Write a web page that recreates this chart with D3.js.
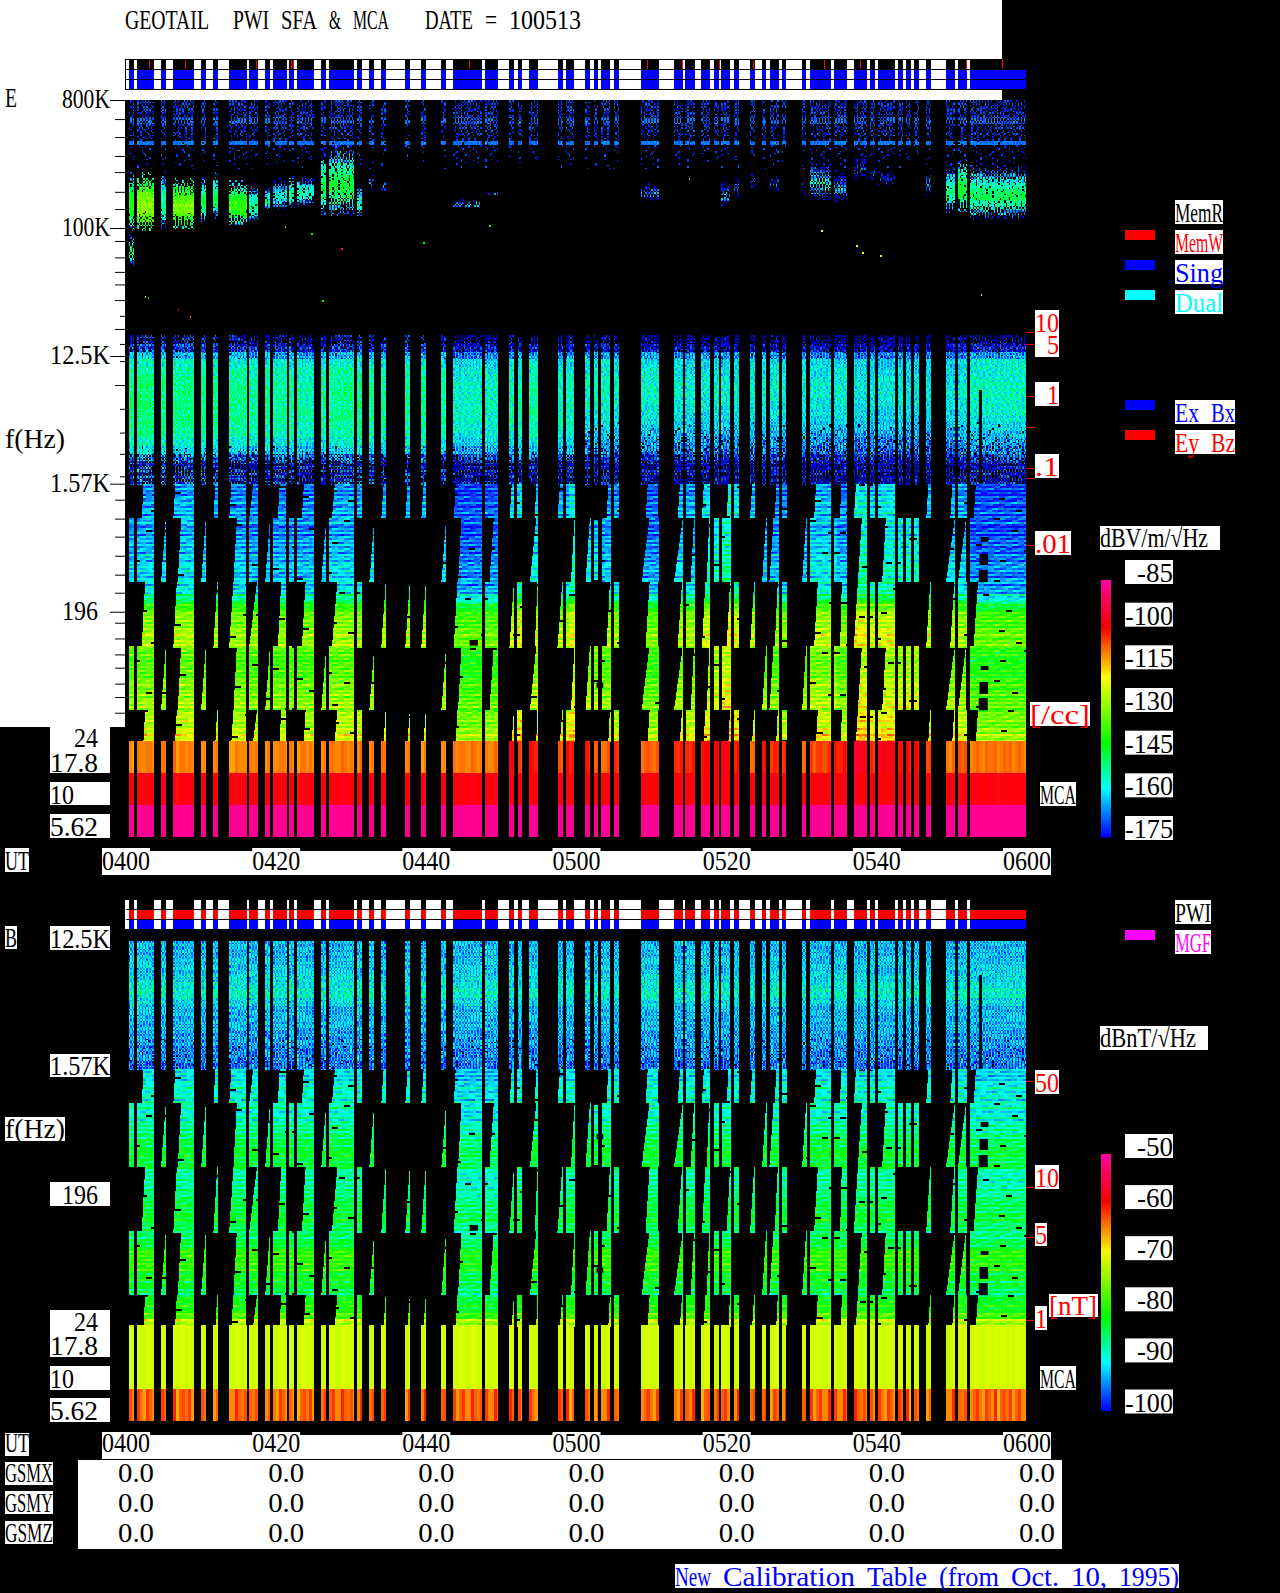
<!DOCTYPE html>
<html>
<head>
<meta charset="utf-8">
<script src="https://cdn.jsdelivr.net/npm/d3@7"></script>
<style>
body { margin: 0; background: #000; }
svg { display: block; }
text { font-family: "Liberation Serif", serif; font-size: 27px; white-space: pre; }
</style>
</head>
<body>
<svg id="chart" width="1280" height="1593"></svg>
<script>
// minutes after 0400 where the receiver has data
const segments = [[0.53,1.18],[1.62,3.85],[4.78,5.43],[6.41,9.18],[10.11,10.76],[11.74,12.39],[13.86,16.2],[16.53,17.73],[18.65,19.31],[19.74,21.54],[21.87,22.52],[22.95,25.18],[26.11,26.76],[27.2,30.52],[30.95,31.6],[32.53,33.18],[34.11,34.76],[37.32,37.97],[39.44,40.09],[42.11,42.76],[43.74,47.55],[47.99,49.73],[51.2,51.85],[52.29,52.94],[53.86,55.06],[57.62,58.27],[58.71,59.85],[61.32,61.97],[62.41,63.06],[63.44,64.64],[65.07,65.73],[68.67,71.06],[73.08,74.27],[74.65,75.85],[76.78,77.97],[78.41,79.06],[79.44,80.64],[81.07,81.73],[83.2,83.85],[84.78,85.43],[85.86,87.06],[87.44,88.1],[90.11,90.76],[91.2,93.97],[94.41,96.15],[97.07,98.82],[99.2,99.85],[100.29,102.52],[102.95,103.61],[103.99,104.64],[105.08,105.73],[106.65,107.31],[109.32,110.52],[110.95,112.15],[112.53,120]];

// sweep masks of the low bands: left edge at band top, left edge at band bottom, right edge
const maskA = [[2.67,2.22,3.87],[6.89,6.44,9.2],[12.27,11.78,12.4],[14.44,13.87,16.13],[17.56,16.53,17.73],[20.8,20.36,21.47],[24.04,23.56,25.2],[28.27,27.56,30.53],[30.89,30.89,31.6],[34.71,34.13,34.8],[37.91,37.33,38],[40.04,39.47,40.13],[44.27,43.78,47.6],[48,48,49.73],[51.78,51.2,51.87],[52.27,52.27,52.93],[54.93,54.58,55.07],[58.22,57.6,58.27],[58.67,58.67,59.87],[64.58,64.13,64.67],[65.07,65.07,65.73],[69.87,69.33,71.02],[74.18,73.6,74.27],[74.67,74.67,75.87],[77.29,76.84,77.91],[80.58,80.13,80.67],[81.07,81.07,81.73],[83.78,83.24,83.87],[86.93,86.53,87.07],[87.47,87.47,88.13],[92.27,91.78,94],[95.47,95.24,96.13],[97.6,97.07,98.8],[99.2,99.2,99.87],[100.27,100.27,102.53],[107.24,106.71,107.33],[110.44,109.91,110.53],[110.93,110.93,112.13],[113.6,113.02,120]];
const maskB = [[0.53,0.53,1.2],[1.6,1.6,3.87],[5.42,4.8,5.47],[7.47,7.02,9.2],[10.76,10.13,10.8],[14.89,14.44,16.13],[16.53,16.53,17.73],[19.29,18.67,19.33],[19.73,19.73,21.47],[21.87,21.87,22.53],[22.93,22.93,25.2],[26.8,26.13,26.8],[27.2,27.2,30.53],[33.2,32.53,33.2],[42.76,42.13,42.8],[44.8,44.36,47.6],[49.11,48.53,49.73],[54.76,53.91,55.07],[59.87,59.38,59.87],[61.91,61.33,62],[62.4,62.4,63.02],[63.47,63.47,64.67],[69.82,68.8,71.11],[74.27,73.11,74.27],[75.78,75.33,75.87],[77.82,77.47,77.91],[78.4,78.4,79.07],[79.47,79.47,80.67],[85.38,84.84,85.47],[86.36,85.82,87.07],[90.71,90.18,90.8],[91.2,91.2,94],[94.4,94.4,96.13],[98.13,97.6,98.8],[101.33,100.84,102.53],[102.93,102.93,103.6],[104,104,104.67],[105.07,105.07,105.73],[110.49,109.33,110.53],[112,110.93,112],[112.53,112.53,120]];

// low band edges in Hz, the first band top lies above the 1.57K cut
const bandEdges = [2560, 905, 320, 113, 40, 14.1];
const bandMasks = [maskA, maskB, maskA, maskB, maskA];

// E field dB per frequency bin, top to bottom
const hfDb = [-171,-171,-171,-171,-168,-168,-171,-171,-171,-171,-167,-171,-171,-171,-171,-171,-171];
const hfCover = [0.38,0.38,0.34,0.34,0.5,0.58,0.32,0.27,0.27,0.18,0.95,0.12,0.1,0.1,0.08,0.06,0.05];
const upperOffsetEarly = [-24,-20,-12,-5,-2,-1,0,0,0,0,0,-1,-2,-5,-9,-15,-19,-19,-19];
const upperCoverEarly = [0.4,0.7,0.95,1,1,1,1,1,1,1,1,1,1,1,0.95,0.7,0.55,0.55,0.55];
const upperOffsetLate = [-24,-20,-10,-3,-2,-1,0,0,-1,-2,-3,-5,-7,-9,-11,-15,-19,-19,-19];
const upperCoverLate = [0.4,0.7,0.95,1,1,1,1,1,1,1,1,0.97,0.93,0.88,0.8,0.7,0.6,0.55,0.55];
const eUpperDb = [-150,-149,-150,-150,-150,-151,-151,-152,-152,-152,-152,-153,-152,-151,-151,-152,-151,-151,-151,-152,-155,-155,-153,-153,-152,-154,-154,-154,-154,-154,-155,-155,-155,-156,-156,-155,-156,-156,-155,-155,-156,-156,-156,-156,-156,-157,-157,-157,-156,-157,-157,-157,-157,-156,-154];
const eLowDb = [-167,-166,-165,-164,-164,-166,-165,-164,-163,-162,-161,-161,-160,-160,-152,-140,-133,-132,-130,-128,-128,-134,-136,-136,-134,-132,-131,-130,-129,-128,-127,-125,-122];
const eLowShift = [0,1,1,2,1,1,0,-1,-1,-1,-1,-1,0,1,2,2,2,2,2,2,-5,-4,5,9,4,2,8,3,3,0,0,-3,2,1,6,8,10,7,3,0,-1,-1,0,3,-1,9,5,7,5,7,7,3,2,1,-5];

// plasma emission patches in the E panel
const patchSeg = [0,0,1,2,3,4,5,6,7,8,9,10,11,12,13,14,15,16,20,21,31,36,37,38,40,42,43,44,45,46,47,51,52,53,54];
const patchTopK = [248,97,248,256,225,233,248,218,207,201,225,237,237,367,385,207,237,218,163,185,207,218,237,256,237,237,302,256,344,278,256,256,278,302,278];
const patchBotK = [97,54,97,100,100,110,118,105,110,134,138,140,145,124,124,118,185,185,138,171,157,145,163,185,185,171,157,157,218,218,201,171,130,130,118];
const patchPeak = [-140,-150,-129,-150,-131,-145,-147,-138,-150,-155,-155,-150,-152,-147,-145,-155,-165,-163,-163,-168,-165,-163,-165,-170,-168,-170,-158,-165,-170,-170,-168,-163,-150,-143,-148];
const patchCover = [1,0.5,1,1,1,1,1,1,0.95,0.85,0.85,0.9,0.85,0.9,0.85,0.8,0.4,0.5,0.35,0.3,0.45,0.4,0.4,0.35,0.4,0.3,0.55,0.5,0.35,0.3,0.35,0.5,0.9,0.95,0.9];
const patchShape = [-26,-20,-14,-9,-5,-2,0,0,-3,-8,-15,-24];
const patchEdge = [0.15,0.35,0.6,0.85,1,1,1,1,0.9,0.7,0.5,0.3];

// stray bright pixels in the gap of the E panel: minutes, kHz, dB
const strayT = [2.65,3,7,8.63,21.3,24.8,28.8,26.3,48.5,39.7,75.1,92.7,97.4,98.2,100.6,114];
const strayK = [33,32.5,26.8,24,103,92,72,31,105,80,225,97,76,68,64,34];
const strayDb = [-120,-142,-100,-110,-142,-142,-88,-142,-140,-142,-140,-120,-120,-122,-120,-122];

// B field dB per frequency bin, top to bottom
const bUpperDb = [-93,-93,-92,-92,-91,-90,-89,-91,-93,-93,-93,-94,-94,-95,-95,-96];
const bUpperCover = [1,1,1,1,1,1,1,1,1,1,1,1,0.97,0.95,0.93,0.93];
const bLowDb = [-91,-90,-89,-89,-88,-89,-88,-87,-85,-84,-83,-83,-84,-88,-87,-86,-85,-84,-83,-83,-85,-85,-83,-80,-79,-80,-82,-82,-85,-82,-81,-78,-72];
const bLowShift = [0,0,0,0,0,0,0,0,0,0,0,0,0,0,0,0,0,0,0,0,-2,-2,0,0,0,0,0,0,0,0,0,0,0,0,0,0,0,0,0,0,0,0,0,0,0,0,0,0,0,0,0,0,0,0,-1];

// MCA channels
const mcaChannels = ["17.8", "10", "5.62"];
const eMca178 = [-111,-110,-110,-110,-111,-110,-111,-110,-110,-110,-110,-110,-111,-110,-110,-110,-110,-110,-111,-111,-110,-110,-99,-106,-102,-108,-102,-103,-107,-108,-104,-108,-103,-104,-101,-100,-100,-103,-109,-102,-104,-104,-109,-106,-103,-98,-104,-99,-103,-102,-102,-105,-109,-107,-109];
const eMca10 = -100;
const eMca562 = -86;
const bMcaDb = [-71, -71, -63];

// status ticks, gaps and notches: start, end, high Hz, low Hz
const memWriteTicks = [3.2,7.93,17.4,22.08,22.35,45.75,69.48,74.22,79.06,83.69,93.1,97.89,112.04,116.83];
const holesE = [[113.73,114.13,7200,1570],[113.97,115,661,610],[113.8,114.95,502,419],[113.7,114.9,386,317],[113.97,115,81,76],[113.8,114.95,62.6,51.6],[113.7,114.9,48.2,39.6],[45.9,47,124,113],[62.8,63.7,62,57]];
const holesB = [[113.73,114.13,7200,1570],[113.97,115,661,610],[113.8,114.95,502,419],[113.7,114.9,386,317],[113.97,115,81,76],[113.8,114.95,62.6,51.6],[113.7,114.9,48.2,39.6],[45.9,47,124,113],[62.8,63.7,540,500],[62.8,63.7,62,57]];

// axes
const timeTicks = [0,20,40,60,80,100,120];
const timeLabels = ["0400","0420","0440","0500","0520","0540","0600"];
const freqMajor = [800000,100000,12500,1570,196];
const freqMajorLabels = ["800K","100K","12.5K","1.57K","196"];
const freqMinor = [587000,438000,322000,248000,180000,136000,81000,62000,49000,40000,31000,19400,7800,1210,890,664,487,358,267,164,127,98,79,61,49,38];
const freqMinorShort = [24000,15200,11500,5300,3600,2550,1770];
const densityValues = [0.01,0.07,0.1,0.3,1,5,10];
const nTValues = [1,5,10,50];
const eBarTicks = [-85,-100,-115,-130,-145,-160,-175];
const bBarTicks = [-50,-60,-70,-80,-90,-100];
const colorStops = [0,0.19,0.365,0.625,0.82,1];
const colorHex = ["#0000ff","#00ffff","#00ff00","#ffff00","#ff0000","#ff00a0"];

// fixed grain tables for the grainy look of the spectrogram
const grain = [37,5,58,21,46,12,60,29,3,51,17,41,8,55,25,33,1,48,14,62,27,39,10,53,19,44,6,57,23,35,2,50,15,42,9,59,28,36,0,47,18,63,24,40,7,54,13,31,56,4,45,20,52,11,38,26,61,16,43,30,49];
const grainShift = [0,17,41,8,29,52,13,36,5,47,22,58,11,33,2,44,19,55,26,7,39,15,50,31,3,24,46,10,35,57,20];
const streakRows = [3,-2,5,-4,1,-6,4,0,-3,6,-1,-5,2,-2,5,-7,3,-1,4,-3,6,-4,0,2,-6,5,-2,1,-5,3,-1];
const streakCols = [2,-3,0,4,-1,-4,3,1,-2,5,-5,0,2,-1,3,-4,1,4,-2,-3,5,0,-1];

const svg = d3.select("#chart");
const W = 1280, H = 1593;

const x = d3.scaleLinear().domain([0,120]).range([125,1026]);
const yE = d3.scaleLog().domain([800000,24.4]).range([100,740]);
const yB = d3.scaleLog().domain([12500,24.4]).range([941,1325]);
const mcaE = d3.scaleBand().domain(mcaChannels).range([741,837]);
const mcaB = d3.scaleBand().domain(mcaChannels).range([1325,1421]);
const yDensity = d3.scaleLog().domain(densityValues).range([545,478,468,427,396,344,332]);
const yNt = d3.scaleLog().domain(nTValues).range([1320,1237,1187,1081]);
const barE = d3.scaleLinear().domain([-175,-85]).range([837,581]);
const barB = d3.scaleLinear().domain([-100,-50]).range([1410.5,1155]);
const color = d3.scaleLinear().domain(colorStops).range(colorHex);
const normE = d3.scaleLinear().domain([-175,-85]).clamp(true);
const normB = d3.scaleLinear().domain([-100,-50]).clamp(true);

const segStarts = segments.map(s => s[0]);
const segAt = t => Math.max(0, d3.bisectRight(segStarts, t) - 1);
const grainAt = (row, col) => grain[(col + grainShift[row % 31]) % 61];
const covered = (row, col, p) => (grainAt(row, col) + 0.5) / 64 < p;
// second look-up into the grain table, -1..1
const speck = (row, col) => (grainAt(row + 9, col + 23) - 31.5) / 31.5;
const streak = (row, col) => streakRows[row % 31] + streakCols[(row + col) % 23];

// all cells go into one path per colour level, far lighter than one rect per cell
const levels = d3.range(64).map(() => d3.path());
function cell(t0, t1, y0, y1, v) {
  const xa = Math.round(x(t0)), xb = Math.round(x(t1));
  const ya = Math.round(y0), yb = Math.round(y1);
  if (xb <= xa || yb <= ya) return;
  levels[Math.round(v * 63)].rect(xa, ya, xb - xa, yb - ya);
}

const fineDt = 0.2, wideDt = 0.4, fineRow = 1.5;

function noiseColumns(s, i, yTop, yBottom, fn) {
  let col = i * 5;
  for (let t = s[0]; t < s[1]; t += fineDt, col++) {
    let row = 0;
    for (let y = yTop; y < yBottom; y += fineRow, row++) {
      const v = fn(y, row, col);
      if (v === null) continue;
      cell(t, Math.min(t + fineDt, s[1]), y, y + fineRow, v);
    }
  }
}

// low bands share the staircase masks on both panels
function lowBands(yScale, profile, shift, norm, amp, speckAmp) {
  const bin = d3.scaleQuantize().domain([yScale(1570), yScale(24.4)]).range(d3.range(profile.length));
  bandMasks.forEach((mask, b) => {
    const bandTop = yScale(bandEdges[b]);
    const bandBottom = yScale(bandEdges[b + 1]);
    const yStart = Math.max(bandTop, yScale(1570));
    const yEnd = Math.min(bandBottom, yScale(24.4));
    let row = b * 7;
    for (let y = yStart; y < yEnd; y += 2, row++) {
      const frac = (y - bandTop) / (bandBottom - bandTop);
      mask.forEach(m => {
        const left = m[0] + (m[1] - m[0]) * frac;
        let col = Math.floor(m[2] * 2);
        for (let t = left; t < m[2]; t += wideDt, col++) {
          const c = Math.floor(col / 2);
          if (covered(row, c, 0.012)) continue;
          const db = profile[bin(y)] + shift[segAt(t)] + streak(row, c) * amp + speck(row, col) * speckAmp;
          cell(t, Math.min(t + wideDt, m[2]), y, y + 2, norm(db));
        }
      });
    }
  });
}

// E panel, high band speckle and the 12.5K-1.57K band
const hfBin = d3.scaleQuantize().domain([100, 168]).range(d3.range(hfDb.length));
const upperBin = d3.scaleQuantize().domain([335, yE(1570)]).range(d3.range(upperOffsetEarly.length));
segments.forEach((s, i) => {
  noiseColumns(s, i, 100, 168, (y, row, col) => {
    const b = hfBin(y);
    if (!covered(row, col, hfCover[b])) return null;
    return normE(hfDb[b] + speck(row, col) * 3);
  });
  const offs = i < 27 ? upperOffsetEarly : upperOffsetLate;
  const cover = i < 27 ? upperCoverEarly : upperCoverLate;
  noiseColumns(s, i, 335, yE(1570), (y, row, col) => {
    const b = upperBin(y);
    if (!covered(row, col, cover[b])) return null;
    return normE(eUpperDb[i] + offs[b] + speck(row, col) * 9);
  });
});

// E panel plasma patches
patchSeg.forEach((seg, p) => {
  const y0 = yE(patchTopK[p] * 1000), y1 = yE(patchBotK[p] * 1000);
  const bin = d3.scaleQuantize().domain([y0, y1]).range(d3.range(patchShape.length));
  noiseColumns(segments[seg], seg, y0, y1, (y, row, col) => {
    const b = bin(y);
    if (!covered(row, col, patchEdge[b] * patchCover[p])) return null;
    return normE(patchPeak[p] + patchShape[b] + speck(row, col) * 7);
  });
});

lowBands(yE, eLowDb, eLowShift, normE, 0.9, 1.5);

// B panel
const bUpperBin = d3.scaleQuantize().domain([yB(12500), yB(1570)]).range(d3.range(bUpperDb.length));
segments.forEach((s, i) => {
  noiseColumns(s, i, yB(12500), yB(1570), (y, row, col) => {
    const b = bUpperBin(y);
    if (!covered(row, col, bUpperCover[b])) return null;
    return normB(bUpperDb[b] + speck(row, col) * 5.5);
  });
});
lowBands(yB, bLowDb, bLowShift, normB, 0.5, 0.8);

// MCA columns
segments.forEach((s, i) => {
  let col = i * 3;
  for (let t = s[0]; t < s[1]; t += wideDt, col++) {
    const t1 = Math.min(t + wideDt, s[1]);
    const r = streakCols[col % 23];
    cell(t, t1, mcaE("17.8"), mcaE("17.8") + mcaE.bandwidth(), normE(eMca178[i] + r * 0.35));
    cell(t, t1, mcaE("10"), mcaE("10") + mcaE.bandwidth(), normE(eMca10 + r * 0.3));
    cell(t, t1, mcaE("5.62"), mcaE("5.62") + mcaE.bandwidth(), normE(eMca562));
    mcaChannels.forEach((c, k) => {
      const amp = k === 2 ? 0.5 : 0.08;
      cell(t, t1, mcaB(c), mcaB(c) + mcaB.bandwidth(), normB(bMcaDb[k] + r * amp));
    });
  }
});
strayT.forEach((t, i) => {
  const y = yE(strayK[i] * 1000);
  cell(t, t + 0.2, y, y + 2, normE(strayDb[i]));
});

// page background
svg.append("rect").attr("width", W).attr("height", H).attr("fill", "#000");
svg.append("rect").attr("width", 1002).attr("height", 100).attr("fill", "#fff");
svg.append("rect").attr("y", 100).attr("width", 125).attr("height", 627).attr("fill", "#fff");

// status strips
const gaps = d3.pairs([[0,0]].concat(segments)).map(p => [p[0][1], p[1][0]]);
function strip(cls, data, y, h, fill) {
  svg.append("g").attr("class", cls).selectAll("rect").data(data).join("rect")
    .attr("x", d => Math.round(x(d[0])))
    .attr("width", d => Math.round(x(d[1])) - Math.round(x(d[0])))
    .attr("y", y).attr("height", h).attr("fill", fill);
}
strip("mem-on", segments, 59, 10, "#000");
strip("sing", segments, 69, 20, "#00f");
svg.append("g").selectAll("rect").data(memWriteTicks).join("rect")
  .attr("x", d => Math.round(x(d))).attr("y", 59).attr("width", 1).attr("height", 10).attr("fill", "#f00");
svg.append("g").selectAll("line").data([59,69,79,89]).join("line")
  .attr("x1", 125).attr("x2", d => d === 59 ? 1002 : 1026).attr("y1", d => d + 0.5).attr("y2", d => d + 0.5)
  .attr("stroke", "#000");
svg.append("line").attr("x1", 125.5).attr("x2", 125.5).attr("y1", 59).attr("y2", 89).attr("stroke", "#000");

strip("b-gap", gaps, 900, 29, "#fff");
strip("b-pwi", segments, 910, 10, "#f00");
strip("b-mgf", segments, 920, 9, "#00f");
svg.append("g").selectAll("line").data([909.5,919.5]).join("line")
  .attr("x1", 126).attr("x2", 1026).attr("y1", d => d).attr("y2", d => d).attr("stroke", "#000");

// spectrogram cells
svg.append("g").attr("class", "cells").attr("shape-rendering", "crispEdges")
  .selectAll("path").data(levels).join("path")
  .attr("d", d => d.toString())
  .attr("fill", (d, i) => color(i / 63));

function holes(data, yScale) {
  svg.append("g").selectAll("rect").data(data).join("rect")
    .attr("x", d => x(d[0])).attr("width", d => x(d[1]) - x(d[0]))
    .attr("y", d => yScale(d[2])).attr("height", d => yScale(d[3]) - yScale(d[2]))
    .attr("fill", "#000");
}
holes(holesE, yE);
holes(holesB, yB);

// frequency ticks
function ticks(scale, values, size, stroke, tx, right) {
  const axis = (right ? d3.axisRight(scale) : d3.axisLeft(scale)).tickValues(values).tickSize(size).tickFormat("");
  svg.append("g").attr("transform", `translate(${tx},0)`).call(axis)
    .call(g => g.select(".domain").remove())
    .call(g => g.selectAll("line").attr("stroke", stroke));
}
ticks(yE, freqMajor, 15, "#000", 125, false);
ticks(yE, freqMinor, 10, "#000", 125, false);
ticks(yE, freqMinorShort, 5, "#000", 125, false);
ticks(yDensity, densityValues, 8, "#f00", 1026, true);
ticks(yNt, nTValues, 8, "#f00", 1026, true);

function box(x0, y0, x1, y1) {
  svg.append("rect").attr("x", x0).attr("y", y0).attr("width", x1 - x0).attr("height", y1 - y0).attr("fill", "#fff");
}
// the old bitmap font is fixed pitch, 12px a character, so each word gets its own run
function addRuns(t, str, lx, base) {
  const words = [...str.matchAll(/\S+/g)];
  words.forEach((m, i) => {
    t.append("tspan").attr("x", lx + m.index * 12).attr("y", base)
      .attr("textLength", m[0].length * 12).attr("lengthAdjust", "spacingAndGlyphs").text(m[0]);
    if (i < words.length - 1) t.append("tspan").style("font-size", "1px").text(" ");
  });
}
function label(str, lx, base, fill) {
  addRuns(svg.append("text").attr("fill", fill || "#000"), str, lx, base);
}
// two tightly stacked values drawn as one text
function stacked(a, b, fill) {
  const t = svg.append("text").attr("fill", fill || "#000");
  addRuns(t, a[0], a[1], a[2]);
  t.append("tspan").style("font-size", "1px").text(" ");
  addRuns(t, b[0], b[1], b[2]);
}

// title and left labels
label("GEOTAIL  PWI SFA & MCA   DATE = 100513", 125, 29);
label("E", 5, 107);
freqMajor.forEach((f, i) => {
  const s = freqMajorLabels[i];
  label(s, (s === "196" ? 98 : 110) - s.length * 12, Math.round(yE(f)) + 8);
});
label("f(Hz)", 5, 448);

box(50, 727, 110, 773); box(50, 782, 110, 805); box(50, 814, 110, 838);
stacked(["24", 74, 747], ["17.8", 50, 772]);
label("10", 50, 804); label("5.62", 50, 836);

// time axes
function timeAxis(y0, y1, base) {
  box(102, y0 + 3, 1049, y1);
  svg.append("g").selectAll("rect").data(timeTicks).join("rect")
    .attr("x", d => x(d) - 23).attr("y", y0).attr("width", 48).attr("height", y1 - y0).attr("fill", "#fff");
  timeTicks.forEach((t, i) => label(timeLabels[i], x(t) - 23, base));
}
box(5, 848, 29, 872); label("UT", 5, 870);
timeAxis(848, 875, 870);
box(5, 1433, 29, 1456); label("UT", 5, 1452);
timeAxis(1432, 1459, 1452);

// E panel legends
const legendE = [["MemR","#000",200,null],["MemW","#f00",230,"#f00"],["Sing","#00f",260,"#00f"],["Dual","#0ff",290,"#0ff"],["Ex Bx","#00f",400,"#00f"],["Ey Bz","#f00",430,"#f00"]];
legendE.forEach(d => {
  box(1175, d[2], 1175 + d[0].length * 12, d[2] + 24);
  label(d[0], 1175, d[2] + 22, d[1]);
  if (d[3]) svg.append("rect").attr("x", 1125).attr("y", d[2]).attr("width", 30).attr("height", 10).attr("fill", d[3]);
});

// density labels
box(1035, 310, 1059, 357); stacked(["10", 1035, 332], ["5", 1047, 354], "#f00");
box(1035, 382, 1059, 406); label("1", 1047, 404, "#f00");
box(1035, 454, 1059, 478); label(".1", 1035, 476, "#f00");
box(1035, 531, 1071, 555); label(".01", 1035, 553, "#f00");
box(1030, 702, 1090, 726); label("[/cc]", 1030, 724, "#f00");
box(1040, 782, 1076, 806); label("MCA", 1040, 804);

// colour bars
function colorBar(scale, tickValues, norm, title, boxRight, titleY) {
  const [lo, hi] = norm.domain();
  const steps = d3.range(256).map(i => lo + (hi - lo) * i / 255);
  const h = Math.abs(scale(lo) - scale(hi)) / 255;
  svg.append("g").selectAll("rect").data(steps).join("rect")
    .attr("x", 1101).attr("width", 10).attr("y", d => scale(d) - h).attr("height", h + 0.6)
    .attr("fill", d => color(norm(d)));
  tickValues.forEach(v => {
    const s = String(v);
    box(1125, scale(v) - 21, 1173, scale(v) + 3);
    label(s, 1173 - s.length * 12, scale(v) + 1);
  });
  box(1100, titleY, boxRight, titleY + 24);
  label(title, 1100, titleY + 21);
}
colorBar(barE, eBarTicks, normE, "dBV/m/√Hz", 1220, 526);
colorBar(barB, bBarTicks, normB, "dBnT/√Hz", 1208, 1026);

// B panel labels
box(5, 926, 17, 949); label("B", 5, 947);
box(50, 926, 110, 950); label("12.5K", 50, 948);
box(50, 1054, 110, 1077); label("1.57K", 50, 1075);
box(5, 1117, 65, 1141); label("f(Hz)", 5, 1138);
box(50, 1182, 110, 1206); label("196", 62, 1204);
box(50, 1310, 110, 1357); stacked(["24", 74, 1331], ["17.8", 50, 1355]);
box(50, 1366, 110, 1390); label("10", 50, 1388);
box(50, 1398, 110, 1422); label("5.62", 50, 1420);

box(1175, 900, 1211, 924); label("PWI", 1175, 922);
box(1175, 930, 1211, 954); label("MGF", 1175, 952, "#f0f");
svg.append("rect").attr("x", 1125).attr("y", 930).attr("width", 30).attr("height", 10).attr("fill", "#f0f");

box(1035, 1070, 1059, 1094); label("50", 1035, 1092, "#f00");
box(1035, 1165, 1059, 1189); label("10", 1035, 1187, "#f00");
box(1035, 1223, 1047, 1246); label("5", 1035, 1244, "#f00");
box(1035, 1306, 1047, 1330); label("1", 1035, 1328, "#f00");
box(1049, 1294, 1098, 1317); label("[nT]", 1049, 1315, "#f00");
box(1040, 1366, 1076, 1390); label("MCA", 1040, 1388);

// orbit table
box(78, 1460, 1062, 1549);
[["GSMX",1462,1482],["GSMY",1491,1512],["GSMZ",1521,1542]].forEach(d => {
  box(5, d[1], 53, d[1] + 23);
  label(d[0], 5, d[2]);
  timeTicks.forEach(t => label("0.0", x(t) - 7, d[2]));
});
svg.append("line").attr("x1", 102).attr("x2", 1049).attr("y1", 1459.5).attr("y2", 1459.5).attr("stroke", "#000");

box(675, 1564, 1179, 1588);
label("New Calibration Table (from Oct. 10, 1995)", 675, 1586, "#00f");
</script>
</body>
</html>
